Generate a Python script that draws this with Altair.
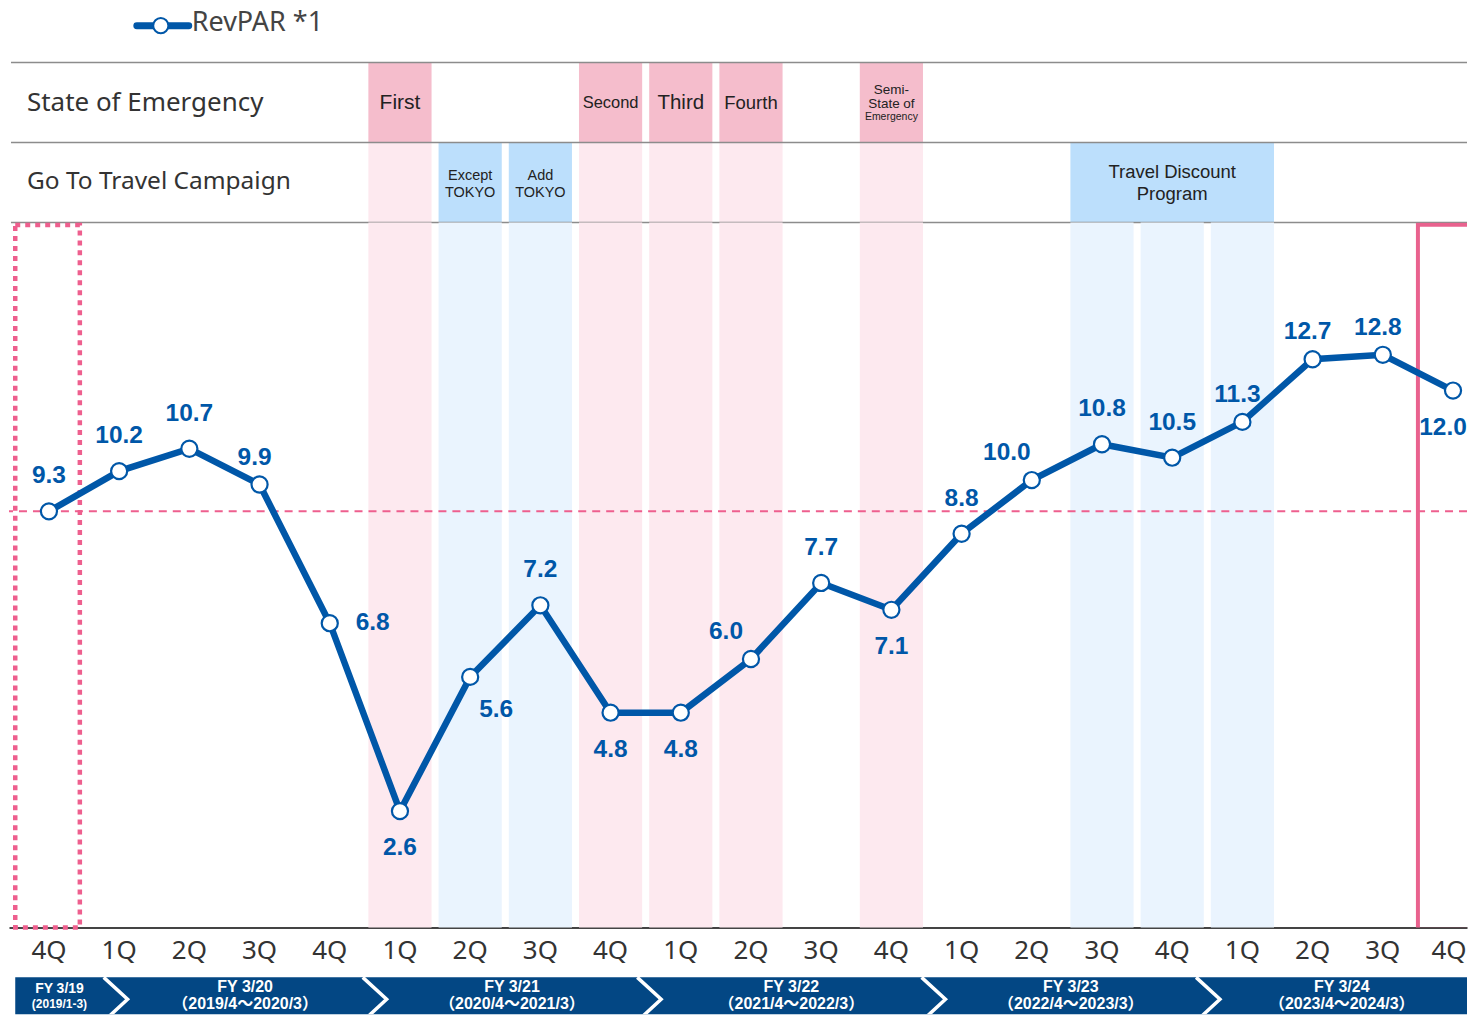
import altair as alt
import pandas as pd

# ---------------- data ----------------
quarters = ["4Q", "1Q", "2Q", "3Q", "4Q", "1Q", "2Q", "3Q", "4Q", "1Q", "2Q",
            "3Q", "4Q", "1Q", "2Q", "3Q", "4Q", "1Q", "2Q", "3Q", "4Q"]
revpar = [9.3, 10.2, 10.7, 9.9, 6.8, 2.6, 5.6, 7.2, 4.8, 4.8, 6.0,
          7.7, 7.1, 8.8, 10.0, 10.8, 10.5, 11.3, 12.7, 12.8, 12.0]
label_place = ["above", "above", "above", "above_near", "right", "below",
               "below_right", "above", "below", "below", "above_left",
               "above", "below", "above", "above_left", "above", "above",
               "above_near", "above_near", "above_near", "below_edge"]
series_name = "RevPAR *1"

row_titles = ["State of Emergency", "Go To Travel Campaign"]
soe_quarters = [5, 8, 9, 10, 12]
soe_labels = ["First", "Second", "Third", "Fourth", "Semi-\nState of"]
soe_sub_label = "Emergency"
goto_quarters = [6, 7]
goto_labels = ["Except\nTOKYO", "Add\nTOKYO"]
discount_quarters = [15, 16, 17]
discount_label = "Travel Discount\nProgram"

fy_names = ["FY 3/19", "FY 3/20", "FY 3/21", "FY 3/22", "FY 3/23", "FY 3/24"]
fy_periods = ["(2019/1-3)", "（2019/4～2020/3）", "（2020/4～2021/3）",
              "（2021/4～2022/3）", "（2022/4～2023/3）", "（2023/4～2024/3）"]
fy_breaks = [0.78, 4.47, 8.38, 12.43, 16.34]

baseline_quarter = 0
current_quarter = 20

# ---------------- layout / style ----------------
W = 1460
STEP = 70.3
X0 = 40
XMIN = -X0 / STEP
XMAX = (W - X0) / STEP
H_LEG, H_HEAD, H_MAIN, H_AXIS = 54, 160, 706, 50
H_BAN = 44          # nominal banner height
H_BAN_VIS = 37      # part of the banner that fits in the window
PX_PER_UNIT = 44.8
YMAX = H_MAIN / PX_PER_UNIT
HALF = 0.45

BLUE = "#0057A8"
PINK_DARK = "#F5BDCC"
PINK_LIGHT = "#FDE9EF"
BLUE_DARK = "#BCDFFC"
BLUE_LIGHT = "#EAF4FE"
NAVY = "#034784"
RED = "#EE5F8E"
GRAY = "#8C8C8C"
TXT = "#333333"
ARIAL = "Liberation Sans, Noto Sans CJK JP, sans-serif"
GOTHIC = "Noto Sans, Noto Sans CJK JP, sans-serif"

xs = alt.Scale(domain=[XMIN, XMAX], nice=False, zero=False)

# ---------------- legend panel ----------------
leg_df = pd.DataFrame({"name": [series_name]})
leg_line = alt.Chart(leg_df).mark_rule(color=BLUE, strokeWidth=7, strokeCap="round").encode(
    x=alt.value(128), x2=alt.value(180), y=alt.value(17))
leg_pt = alt.Chart(leg_df).mark_circle(fill="white", stroke=BLUE, strokeWidth=2, size=230, opacity=1).encode(
    x=alt.value(152), y=alt.value(17))
leg_txt = alt.Chart(leg_df).mark_text(align="left", baseline="alphabetic", font=GOTHIC,
                                      fontSize=27, color="#444444").encode(
    x=alt.value(183), y=alt.value(22), text="name:N")
legend_panel = alt.layer(leg_line, leg_pt, leg_txt).properties(width=W, height=H_LEG)

# ---------------- header panel ----------------
ysh = alt.Scale(domain=[0, 2], reverse=True)
hrects = []
for q in soe_quarters:
    hrects.append((q - HALF, q + HALF, 0, 1, PINK_DARK))
    hrects.append((q - HALF, q + HALF, 1, 2, PINK_LIGHT))
for q in goto_quarters:
    hrects.append((q - HALF, q + HALF, 1, 2, BLUE_DARK))
hrects.append((min(discount_quarters) - HALF, max(discount_quarters) + HALF, 1, 2, BLUE_DARK))
hdf = pd.DataFrame(hrects, columns=["x0", "x1", "y0", "y1", "c"])

h_rect = alt.Chart(hdf).mark_rect().encode(
    x=alt.X("x0:Q", scale=xs, axis=None), x2="x1:Q",
    y=alt.Y("y0:Q", scale=ysh, axis=None), y2="y1:Q",
    color=alt.Color("c:N", scale=None))

h_rules = alt.Chart(pd.DataFrame({"y": [0, 1, 2]})).mark_rule(color=GRAY, strokeWidth=1.5).encode(
    y=alt.Y("y:Q", scale=ysh, axis=None), x=alt.value(2), x2=alt.value(W))

row_font = [26, 24.5]
h_rowtitles = []
for i, t in enumerate(row_titles):
    h_rowtitles.append(alt.Chart(pd.DataFrame({"t": [t], "y": [i + 0.5]})).mark_text(
        align="left", baseline="middle", font=GOTHIC, fontSize=row_font[i], color=TXT).encode(
        x=alt.value(18), y=alt.Y("y:Q", scale=ysh, axis=None), text="t:N"))


def htext(qs, texts, row, size, lh=20, dy=0.0):
    n = texts[0].count("\n") + 1
    df = pd.DataFrame({"q": qs, "t": texts, "y": [row + 0.5] * len(qs)})
    return alt.Chart(df).mark_text(align="center", baseline="middle", font=ARIAL,
                                   fontSize=size, lineHeight=lh, lineBreak="\n",
                                   color="#222222", dy=dy - (n - 1) * lh / 2).encode(
        x=alt.X("q:Q", scale=xs, axis=None), y=alt.Y("y:Q", scale=ysh, axis=None),
        text="t:N")


soe_size = {"First": 21, "Second": 16.5, "Third": 20.5, "Fourth": 18.5}
h_texts = []
for q, t in zip(soe_quarters, soe_labels):
    if t in soe_size:
        h_texts.append(htext([q], [t], 0, soe_size[t]))
    else:
        h_texts.append(htext([q], [t], 0, 13.5, lh=14, dy=-6))
        h_texts.append(htext([q], [soe_sub_label], 0, 10.5, dy=14))
h_texts.append(htext(goto_quarters, goto_labels, 1, 14.5, lh=17, dy=2))
h_texts.append(htext([sum(discount_quarters) / len(discount_quarters)], [discount_label], 1, 18.5, lh=22, dy=1))

header_panel = alt.layer(h_rect, h_rules, *h_rowtitles, *h_texts).properties(width=W, height=H_HEAD)

# ---------------- main panel ----------------
ys = alt.Scale(domain=[0, YMAX], nice=False, zero=False)
x_axis = alt.Axis(labels=False, ticks=False, grid=False, title=None, domain=True,
                  domainColor="#444444", domainWidth=2)

mrects = []
for q in soe_quarters:
    mrects.append((q - HALF, q + HALF, PINK_LIGHT))
for q in goto_quarters + discount_quarters:
    mrects.append((q - HALF, q + HALF, BLUE_LIGHT))
mdf = pd.DataFrame(mrects, columns=["x0", "x1", "c"])
mdf["y0"] = 0
mdf["y1"] = YMAX

m_bands = alt.Chart(mdf).mark_rect().encode(
    x=alt.X("x0:Q", scale=xs, axis=x_axis), x2="x1:Q",
    y=alt.Y("y0:Q", scale=ys, axis=None), y2="y1:Q",
    color=alt.Color("c:N", scale=None))

m_dash = alt.Chart(pd.DataFrame({"v": [revpar[baseline_quarter]]})).mark_rule(
    color=RED, strokeWidth=2, strokeDash=[8, 6]).encode(
    y=alt.Y("v:Q", scale=ys, axis=None))

box_df = pd.DataFrame({
    "x0": [baseline_quarter - 0.48, current_quarter - 0.5],
    "x1": [baseline_quarter + 0.44, current_quarter + 1.0],
    "y0": [0, -0.05], "y1": [YMAX - 0.06, YMAX - 0.05], "k": ["past", "now"]})
m_dotbox = alt.Chart(box_df).transform_filter("datum.k == 'past'").mark_rect(
    fill="white", fillOpacity=0, stroke=RED, strokeWidth=4.5, strokeDash=[5, 5]).encode(
    x=alt.X("x0:Q", scale=xs, axis=x_axis), x2="x1:Q",
    y=alt.Y("y0:Q", scale=ys, axis=None), y2="y1:Q")
m_nowbox = alt.Chart(box_df).transform_filter("datum.k == 'now'").mark_rect(
    fill="white", fillOpacity=0, stroke="#E9628E", strokeWidth=4, clip=True).encode(
    x=alt.X("x0:Q", scale=xs, axis=x_axis), x2="x1:Q",
    y=alt.Y("y0:Q", scale=ys, axis=None), y2="y1:Q")

pts = pd.DataFrame({"q": list(range(len(revpar))), "v": revpar,
                    "lab": [f"{v:.1f}" for v in revpar], "place": label_place})
m_line = alt.Chart(pts).mark_line(color=BLUE, strokeWidth=6.5).encode(
    x=alt.X("q:Q", scale=xs, axis=x_axis), y=alt.Y("v:Q", scale=ys, axis=None))
m_pts = alt.Chart(pts).mark_circle(fill="white", stroke=BLUE, strokeWidth=2.2, size=260, opacity=1).encode(
    x=alt.X("q:Q", scale=xs, axis=x_axis), y=alt.Y("v:Q", scale=ys, axis=None))

PLACE = {"above": (0, -35), "above_near": (-5, -27), "below": (0, 37),
         "right": (43, 0), "above_left": (-25, -27), "below_right": (26, 33),
         "below_edge": (-10, 37)}
m_labels = []
for code, (dx, dy) in PLACE.items():
    m_labels.append(alt.Chart(pts).transform_filter(f"datum.place == '{code}'").mark_text(
        font=ARIAL, fontWeight="bold", fontSize=24.5, color=BLUE, align="center",
        baseline="middle", dx=dx, dy=dy, clip=True).encode(
        x=alt.X("q:Q", scale=xs, axis=x_axis), y=alt.Y("v:Q", scale=ys, axis=None),
        text="lab:N"))

main_panel = alt.layer(m_bands, m_dash, m_dotbox, m_nowbox, m_line, m_pts, *m_labels).properties(
    width=W, height=H_MAIN)

# ---------------- quarter labels + fiscal-year banner ----------------
# y in "banner heights": banner spans 0..1, quarter labels sit above it
yb = alt.Scale(domain=[1 - H_BAN_VIS / H_BAN, 1 + H_AXIS / H_BAN], nice=False, zero=False)
Q_LABEL_Y = 1 + (H_AXIS - 24) / H_BAN
BAN_START = -0.48
BAN_END = 20.15
TIP = 0.34

last_q = len(quarters) - 1
q_df = pd.DataFrame({"q": list(range(len(quarters))), "lab": quarters,
                     "y": [Q_LABEL_Y] * len(quarters)})
b_qlabels = alt.Chart(q_df).transform_filter(f"datum.q < {last_q}").mark_text(
    font=GOTHIC, fontSize=26, color=TXT, align="center", baseline="middle", clip=True).encode(
    x=alt.X("q:Q", scale=xs, axis=None), y=alt.Y("y:Q", scale=yb, axis=None), text="lab:N")
b_qlast = alt.Chart(q_df).transform_filter(f"datum.q == {last_q}").mark_text(
    font=GOTHIC, fontSize=26, color=TXT, align="center", baseline="middle", dx=-4, clip=True).encode(
    x=alt.X("q:Q", scale=xs, axis=None), y=alt.Y("y:Q", scale=yb, axis=None), text="lab:N")

ban_df = pd.DataFrame({"x0": [BAN_START], "x1": [XMAX], "y0": [0], "y1": [1]})
b_rect = alt.Chart(ban_df).mark_rect(color=NAVY, clip=True).encode(
    x=alt.X("x0:Q", scale=xs, axis=None), x2="x1:Q",
    y=alt.Y("y0:Q", scale=yb, axis=None), y2="y1:Q")

chev = []
for k, b in enumerate(fy_breaks):
    chev += [(k, 0, b, 1.0), (k, 1, b + TIP, 0.5), (k, 2, b, 0.0)]
chev_df = pd.DataFrame(chev, columns=["k", "o", "x", "y"])
b_chev = alt.Chart(chev_df).mark_line(color="white", strokeWidth=3.5, clip=True).encode(
    x=alt.X("x:Q", scale=xs, axis=None), y=alt.Y("y:Q", scale=yb, axis=None),
    detail="k:N", order="o:Q")

lefts = [BAN_START] + [b + TIP for b in fy_breaks]
rights = fy_breaks + [BAN_END]
fy_df = pd.DataFrame({"x": [(l + r) / 2 for l, r in zip(lefts, rights)],
                      "name": fy_names, "period": fy_periods, "y": [0.5] * len(fy_names),
                      "first": [i == 0 for i in range(len(fy_names))]})


def btext(field, flt, size, dy):
    return alt.Chart(fy_df).transform_filter(flt).mark_text(
        font=ARIAL, fontWeight="bold", fontSize=size, color="white", align="center",
        baseline="middle", dy=dy, clip=True).encode(
        x=alt.X("x:Q", scale=xs, axis=None), y=alt.Y("y:Q", scale=yb, axis=None),
        text=f"{field}:N")


b_texts = [btext("name", "datum.first", 14, -10), btext("period", "datum.first", 12, 5),
           btext("name", "!datum.first", 16, -12), btext("period", "!datum.first", 16, 5)]
banner_panel = alt.layer(b_qlabels, b_qlast, b_rect, b_chev, *b_texts).properties(
    width=W, height=H_AXIS + H_BAN_VIS)

chart = alt.vconcat(legend_panel, header_panel, main_panel, banner_panel,
                    spacing=0, bounds="flush").properties(
    padding=0, background="white").configure_view(strokeWidth=0)

chart.save("out.html", embed_options={"renderer": "svg", "actions": False})
